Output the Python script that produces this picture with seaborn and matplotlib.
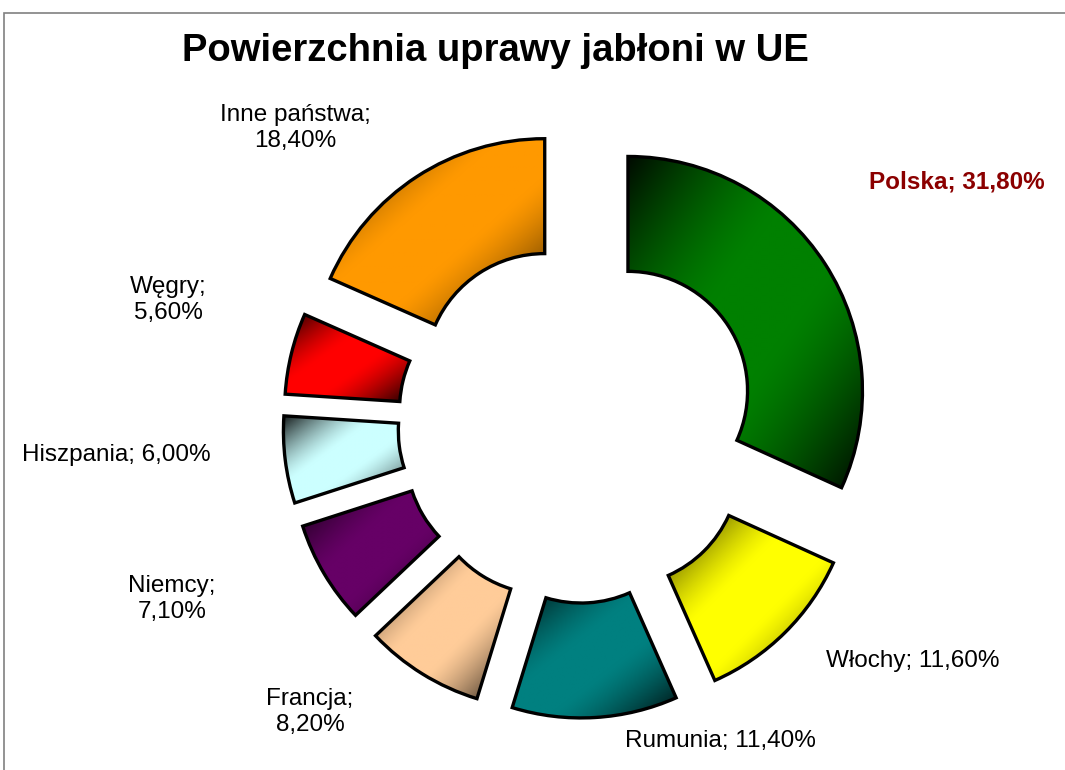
import matplotlib.pyplot as plt
import numpy as np
import seaborn as sns
from matplotlib.colors import to_rgb
from matplotlib.patches import Rectangle

# Apple orchard area share in the EU (clockwise from 12 o'clock)
countries = ["Polska", "Włochy", "Rumunia", "Francja", "Niemcy", "Hiszpania", "Węgry", "Inne państwa"]
shares = [31.8, 11.6, 11.4, 8.2, 7.1, 6.0, 5.6, 18.4]
colors = ["#008000", "#FFFF00", "#008080", "#FFCC99", "#660066", "#CCFFFF", "#FF0000", "#FF9900"]
wrap_label = [False, False, False, True, True, False, True, True]

sns.set_theme(style="white")
plt.rcParams["font.family"] = ["Liberation Sans", "DejaVu Sans"]

W, H = 1065, 770
CX, CY, R = 577.5, 423.5, 234.5  # pixel centre / radius of the ring

fig = plt.figure(figsize=(W / 100, H / 100), dpi=100)
ax = fig.add_axes([0, 0, 1, 1])

wedges, _ = ax.pie(
    shares,
    colors=colors,
    startangle=90,
    counterclock=False,
    explode=[0.256] * len(shares),
    radius=1.0,
    wedgeprops=dict(width=0.49, edgecolor="black", linewidth=2.4),
    frame=True,
)
ax.axis("off")


def shaded(color, n=200):
    """Diagonal gradient: dark corners (top-left, bottom-right), bright band in the middle."""
    base = np.array(to_rgb(color))
    yy, xx = np.mgrid[0:1:n * 1j, 0:1:n * 1j]
    t = (xx + yy) / 2.0  # row 0 is top of the image
    f = np.clip((np.abs(2 * t - 1) - 0.2) / 0.8, 0, 1) ** 1.4
    img = base[None, None, :] * (1 - 0.92 * f[..., None])
    return img


for w, c in zip(wedges, colors):
    bb = w.get_path().get_extents(w.get_transform() - ax.transData)
    w.set_facecolor("none")
    w.set_zorder(3)
    im = ax.imshow(shaded(c), extent=[bb.x0, bb.x1, bb.y0, bb.y1],
                   origin="upper", interpolation="bilinear", zorder=2, aspect="auto")
    im.set_clip_path(w)

ax.set_xlim(-CX / R, (W - CX) / R)
ax.set_ylim(-(H - CY) / R, CY / R)
ax.set_aspect("auto")

# label anchor points in pixels
label_px = [(957, 182), (913, 661), (720, 741), (310, 712), (172, 599),
            (116, 455), (168, 300), (295, 128)]

for name, val, wrap, (px, py) in zip(countries, shares, wrap_label, label_px):
    txt = f"{val:.2f}%".replace(".", ",")
    label = f"{name};\n{txt}" if wrap else f"{name}; {txt}"
    x = (px - CX) / R
    y = (CY - py) / R
    if name == "Polska":
        ax.text(x, y, label, ha="center", va="center", fontsize=17.5,
                fontweight="bold", color="#8B0000")
    else:
        ax.text(x, y, label, ha="center", va="center", fontsize=17.5,
                color="black", linespacing=1.25)

fig.text(495 / W, 1 - 51 / H, "Powierzchnia uprawy jabłoni w UE", ha="center",
         va="center", fontsize=27.5, fontweight="bold", color="black")

# chart border (only top/left visible in the crop)
fig.patches.append(Rectangle((4 / W, -0.1), 1.2, 1 - 13 / H + 0.1, transform=fig.transFigure,
                             fill=False, edgecolor="#808080", linewidth=1.2))

fig.savefig("out.png", dpi=100)
